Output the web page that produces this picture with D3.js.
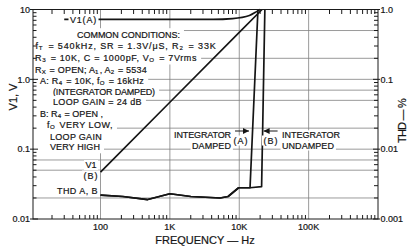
<!DOCTYPE html>
<html>
<head>
<meta charset="utf-8">
<script src="https://cdn.jsdelivr.net/npm/d3@7"></script>
<style>
body { margin: 0; background: #fff; }
svg { display: block; background: #fff; }
text { font-family: "Liberation Sans", Arial, sans-serif; fill: #151515; stroke: #151515; stroke-width: 0.2; }
</style>
</head>
<body>
<svg width="410" height="248"></svg>
<script>
// values
var vFreqA = [30, 100, 1000, 4200, 8000, 14000, 18000, 20000];
var v1A = [7.2, 7.2, 7.2, 7.2, 7.4, 8.2, 9.4, 10];
var vFreqB = [100, 1000, 10000, 21300];
var v1B = [0.047, 0.47, 4.7, 10];
var thdFreqA = [100, 210, 480, 1000, 2000, 5300, 6900, 9800, 14300, 18600];
var thdA = [0.0022, 0.0021, 0.0019, 0.0023, 0.0021, 0.002, 0.0021, 0.0028, 0.0028, 1.0];
var thdFreqB = [100, 210, 480, 1000, 2000, 5300, 6900, 9800, 14300, 21000, 23400];
var thdB = [0.0022, 0.0021, 0.0019, 0.0023, 0.0021, 0.002, 0.0021, 0.0028, 0.0028, 0.0029, 1.0];

var freqTicks = [100, 1000, 10000, 100000];
var freqLabels = ['100', '1K', '10K', '100K'];
var vTicks = [10, 1, 0.1, 0.01];
var vLabels = ['10', '1.0', '0.1', '0.01'];
var thdTicks = [1, 0.1, 0.01, 0.001];
var thdLabels = ['1.0', '0.1', '0.01', '0.001'];
var vGrid = [5, 2, 1, 0.7, 0.5, 0.2, 0.1, 0.07, 0.05, 0.02];

var x0 = 33, x1 = 378, y0 = 9.5, y1 = 219;
var svg = d3.select('svg');

var x = d3.scaleLog().domain([100, 1e6]).range([100.5, 378]);
var yL = d3.scaleLog().domain([0.01, 10]).range([y1, y0]);
var yR = d3.scaleLog().domain([0.001, 1]).range([y1, y0]);

// arrow head
svg.append('defs').append('marker')
  .attr('id', 'arr')
  .attr('markerUnits', 'userSpaceOnUse')
  .attr('markerWidth', 6).attr('markerHeight', 6)
  .attr('refX', 6).attr('refY', 3)
  .attr('orient', 'auto')
  .append('path').attr('d', 'M0,0 L6,3 L0,6 z').attr('fill', '#151515');

// grid
var grid = svg.append('g').attr('stroke', '#808080').attr('stroke-width', 0.8);
grid.selectAll('line.h').data(vGrid).enter().append('line')
  .attr('x1', x0).attr('x2', x1)
  .attr('y1', function(d) { return yL(d); })
  .attr('y2', function(d) { return yL(d); });
grid.selectAll('line.v').data(freqTicks).enter().append('line')
  .attr('y1', y0).attr('y2', y1)
  .attr('x1', function(d) { return x(d); })
  .attr('x2', function(d) { return x(d); });

// turn "R_{2}" markup into tspans
function rich(sel, str, size) {
  str.split(/(_\{[^}]*\})/).forEach(function(p) {
    if (!p) return;
    if (p.charAt(0) === '_') {
      sel.append('tspan').attr('font-size', size * 0.68).attr('dy', 1.2).text(p.slice(2, -1));
      sel.append('tspan').attr('dy', -1.2).text('\u200a');
    } else {
      sel.append('tspan').text(p);
    }
  });
}

// squeeze or stretch a line of text to a measured width
function fit(t, w) {
  if (!w) return;
  var node = t.node();
  var n = node.getNumberOfChars();
  var cur = node.getComputedTextLength();
  t.attr('letter-spacing', ((w - cur) / n).toFixed(2));
}

// white patch behind text so the grid is cut out there
function patch(t, padX, padY, fromX) {
  var b = t.node().getBBox();
  var sx = fromX != null ? fromX : b.x - padX;
  d3.select(t.node().parentNode).insert('rect', ':first-child')
    .attr('x', sx).attr('y', b.y - padY)
    .attr('width', b.x + b.width + padX - sx)
    .attr('height', b.height + 2 * padY)
    .attr('fill', '#fff');
}

var notes = [
  {t: 'COMMON CONDITIONS:', x: 77, y: 37.5, w: 103},
  {t: 'f_{T} = 540kHz,  SR = 1.3V/\u03bcS,  R_{2} = 33K', x: 35.5, y: 49, w: 181},
  {t: 'R_{3} = 10K,  C  = 1000pF,  V_{O} = 7Vrms', x: 35, y: 61, w: 162},
  {t: 'R_{X} = OPEN;  A_{1}, A_{2} = 5534', x: 35, y: 72.5, w: 112},
  {t: 'A:  R_{4} = 10K,  f_{O} = 16kHz', x: 40, y: 84, w: 104},
  {t: '(INTEGRATOR DAMPED)', x: 53, y: 95, w: 102},
  {t: 'LOOP GAIN = 24 dB', x: 53, y: 105.3, w: 89},
  {t: 'B:  R_{4} = OPEN ,', x: 40, y: 117, w: 63},
  {t: 'f_{O} VERY LOW,', x: 47, y: 128, w: 66},
  {t: 'LOOP GAIN', x: 50, y: 139.5, w: 52},
  {t: 'VERY HIGH', x: 50, y: 150, w: 50}
];
var noteG = svg.append('g');
notes.forEach(function(d) {
  var g = noteG.append('g');
  var t = g.append('text').attr('x', d.x).attr('y', d.y).attr('font-size', 9);
  rich(t, d.t, 9);
  fit(t, d.w);
  patch(t, 4, 1.3, x0 + 1);
});

// curves
var line = d3.line().curve(d3.curveMonotoneX);
var straight = d3.line();
function pts(fs, vs, ys) {
  return fs.map(function(f, i) { return [x(f), ys(vs[i])]; });
}
var curves = svg.append('g').attr('fill', 'none').attr('stroke', '#151515')
  .attr('stroke-width', 1.7).attr('stroke-linejoin', 'round');
curves.append('path').attr('d', line(pts(vFreqA, v1A, yL)));
curves.append('path').attr('d', straight(pts(vFreqB, v1B, yL)));
curves.append('path').attr('d', straight(pts(thdFreqA, thdA, yR)));
curves.append('path').attr('d', straight(pts(thdFreqB, thdB, yR)));

// curve labels
var labs = [
  {t: 'V1(A)', x: 83.5, y: 22.5, a: 'middle', w: 27},
  {t: 'V1', x: 91, y: 168, a: 'middle'},
  {t: '(B)', x: 91, y: 178.5, a: 'middle', w: 15},
  {t: 'THD A, B', x: 98, y: 193.5, a: 'end', w: 41},
  {t: 'INTEGRATOR', x: 231, y: 138.3, a: 'end', w: 57},
  {t: 'DAMPED', x: 231, y: 148.5, a: 'end', w: 39},
  {t: '(A)', x: 241, y: 143.5, a: 'middle', w: 15},
  {t: '(B)', x: 271, y: 143.5, a: 'middle', w: 15},
  {t: 'INTEGRATOR', x: 282, y: 138.3, a: 'start', w: 58},
  {t: 'UNDAMPED', x: 282, y: 148.5, a: 'start', w: 52}
];
var labG = svg.append('g');
labs.forEach(function(d) {
  var g = labG.append('g');
  var t = g.append('text').attr('x', d.x).attr('y', d.y)
    .attr('font-size', 9).attr('text-anchor', d.a).text(d.t);
  fit(t, d.w);
  patch(t, 1.5, 0);
});

// arrows to the two break points
var arrows = svg.append('g').attr('stroke', '#151515').attr('stroke-width', 1);
arrows.append('line').attr('x1', x(14300) - 15).attr('x2', x(14300) - 1)
  .attr('y1', 131).attr('y2', 131).attr('marker-end', 'url(#arr)');
arrows.append('line').attr('x1', x(21000) + 16).attr('x2', x(21000) + 2)
  .attr('y1', 131).attr('y2', 131).attr('marker-end', 'url(#arr)');

// frame and ticks
var axes = svg.append('g').attr('stroke', '#1a1a1a').attr('stroke-width', 1);
axes.append('rect').attr('x', x0).attr('y', y0)
  .attr('width', x1 - x0).attr('height', y1 - y0).attr('fill', 'none');

function minors(lo, hi) {
  var out = [];
  for (var d = lo; d < hi; d *= 10) {
    for (var k = 2; k <= 9; k++) out.push(d * k);
  }
  return out;
}
var fMinor = minors(10, 1e6).filter(function(f) { return x(f) > x0 + 1 && x(f) < x1 - 1; });
var vMinor = minors(0.01, 10);
var tMinor = minors(0.001, 1);

axes.selectAll('line.bt').data(fMinor).enter().append('line')
  .attr('x1', function(d) { return x(d); }).attr('x2', function(d) { return x(d); })
  .attr('y1', y1).attr('y2', y1 - 4);
axes.selectAll('line.tt').data(fMinor).enter().append('line')
  .attr('x1', function(d) { return x(d); }).attr('x2', function(d) { return x(d); })
  .attr('y1', y0).attr('y2', y0 + 4.5);
axes.selectAll('line.lt').data(vMinor).enter().append('line')
  .attr('x1', x0).attr('x2', x0 + 3.5)
  .attr('y1', function(d) { return yL(d); }).attr('y2', function(d) { return yL(d); });
axes.selectAll('line.rt').data(tMinor).enter().append('line')
  .attr('x1', x1).attr('x2', x1 - 4)
  .attr('y1', function(d) { return yR(d); }).attr('y2', function(d) { return yR(d); });
axes.selectAll('line.lm').data(vTicks).enter().append('line')
  .attr('x1', x0 - 3).attr('x2', x0 + 5)
  .attr('y1', function(d) { return yL(d); }).attr('y2', function(d) { return yL(d); });
axes.selectAll('line.rm').data(thdTicks).enter().append('line')
  .attr('x1', x1 + 2).attr('x2', x1 - 5)
  .attr('y1', function(d) { return yR(d); }).attr('y2', function(d) { return yR(d); });

// tick labels
var tl = svg.append('g').attr('font-size', 9);
tl.selectAll('text.b').data(freqTicks).enter().append('text')
  .attr('x', function(d) { return x(d); }).attr('y', 229.5)
  .attr('text-anchor', 'middle')
  .text(function(d, i) { return freqLabels[i]; });
tl.selectAll('text.l').data(vTicks).enter().append('text')
  .attr('x', 30).attr('y', function(d) { return yL(d) + 3.2; })
  .attr('text-anchor', 'end')
  .text(function(d, i) { return vLabels[i]; });
tl.selectAll('text.r').data(thdTicks).enter().append('text')
  .attr('x', 380.5).attr('y', function(d) { return yR(d) + 3.2; })
  .text(function(d, i) { return thdLabels[i]; });

// axis titles
svg.append('text').attr('x', 205).attr('y', 243.5).attr('text-anchor', 'middle')
  .attr('font-size', 11).text('FREQUENCY \u2014 Hz');
svg.append('text').attr('transform', 'translate(17,97) rotate(-90)')
  .attr('text-anchor', 'middle').attr('font-size', 11).text('V1, V');
var rt = svg.append('text').attr('transform', 'translate(406,121) rotate(-90)')
  .attr('text-anchor', 'middle').attr('font-size', 11).text('THD \u2014 %');
fit(rt, 44);
</script>
</body>
</html>
